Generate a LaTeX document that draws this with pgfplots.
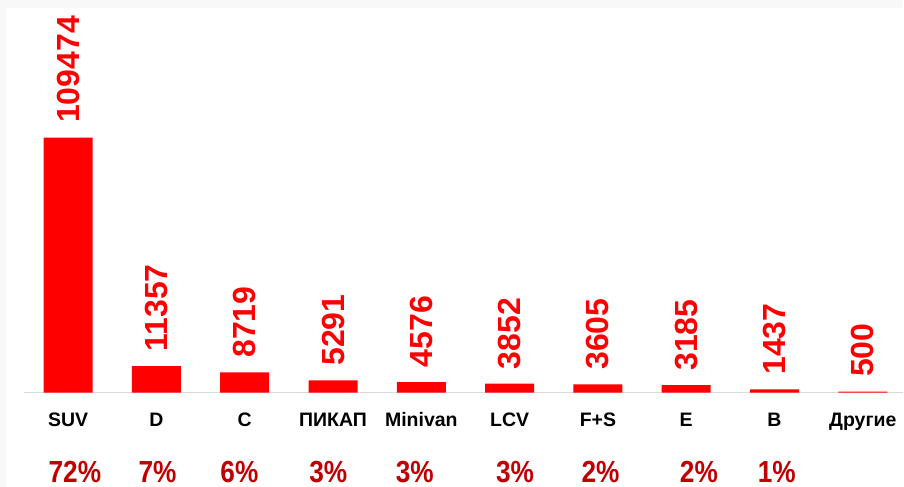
\documentclass[border=0pt]{standalone}
\usepackage{fontspec}
\setmainfont{Liberation Sans}
\newfontfamily\narrowfont[FakeStretch=0.86]{Liberation Sans}
\usepackage{pgfplots}
\pgfplotsset{compat=1.18}
\definecolor{barred}{HTML}{FF0000}
\definecolor{pctred}{HTML}{C00000}
\definecolor{bggray}{HTML}{F8F8F8}
\definecolor{axgray}{HTML}{D9D9D9}
\begin{document}
\begin{tikzpicture}
\fill[bggray] (0pt,0pt) rectangle (904pt,487pt);
\fill[white] (6pt,0pt) rectangle (904pt,479pt);
\begin{axis}[
 at={(24pt,94pt)}, anchor=south west, scale only axis,
 width=880pt, height=393pt,
 xmin=-0.5, xmax=9.458, ymin=0, ymax=168500,
 axis x line=bottom, axis y line=none,
 x axis line style={-, draw=axgray, line width=1.5pt},
 xtick={0,...,9},
 xticklabels={SUV,D,C,ПИКАП,Minivan,LCV,F+S,E,B,Другие},
 major tick length=0pt,
 xticklabel style={anchor=base, yshift=-34.3pt, font=\fontsize{19.5}{20}\selectfont\bfseries, text=black},
 clip=false,
]
\addplot[ybar, bar width=49pt, fill=barred, draw=none,
 point meta=explicit symbolic, nodes near coords,
 nodes near coords style={rotate=90, anchor=west, inner xsep=14.5pt, inner ysep=0pt, text=barred, font=\fontsize{32}{32}\selectfont\bfseries}]
 table[meta=m] {
x y m
0 109474 109474
1 11357 11357
2 8719 8719
3 5291 5291
4 4576 4576
5 3852 3852
6 3605 3605
7 3185 3185
8 1437 1437
9 500 500
};
\addplot[draw=none, mark=none,
 point meta=explicit symbolic, nodes near coords={\pgfplotspointmeta\%},
 nodes near coords style={anchor=base, inner sep=0pt, text=pctred, font=\narrowfont\fontsize{30.5}{30}\selectfont\bfseries}]
 table[meta=m] {
x y m
0.076 -38716 72
1.012 -38716 7
1.940 -38716 6
2.947 -38716 3
3.925 -38716 3
5.062 -38716 3
6.030 -38716 2
7.144 -38716 2
8.026 -38716 1
};
\end{axis}
\end{tikzpicture}
\end{document}
